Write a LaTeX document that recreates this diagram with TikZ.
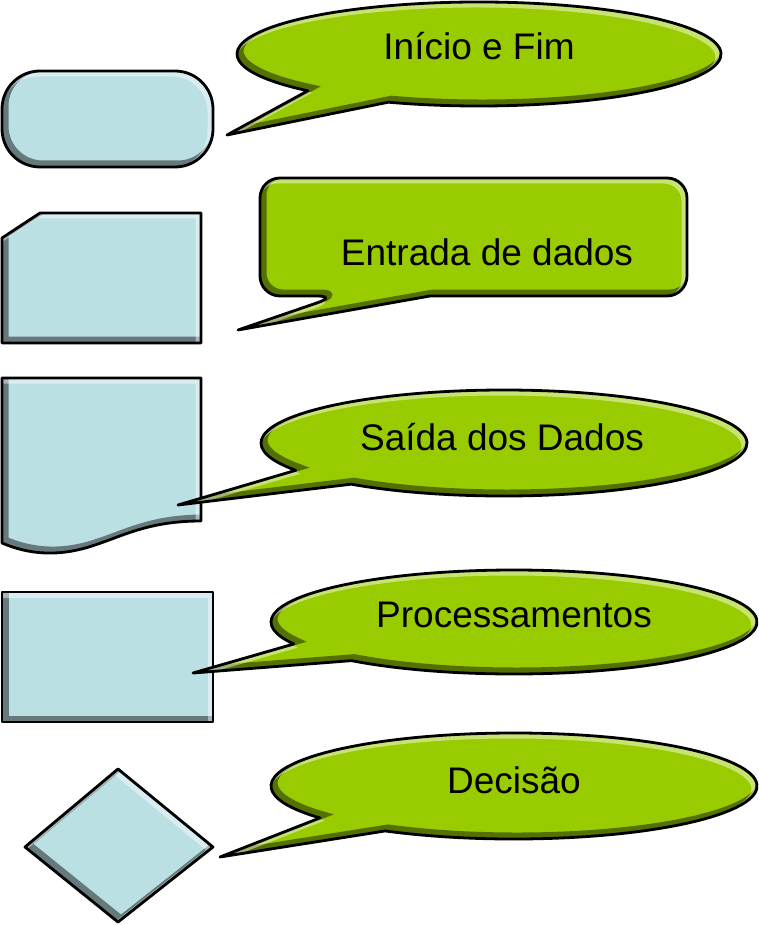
\documentclass[tikz,border=0pt]{standalone}
\usepackage{fontspec}
\setmainfont{Liberation Sans}
\definecolor{shapeblue}{RGB}{187,224,228}
\definecolor{callgreen}{RGB}{153,204,0}
% shape outlines, in pixel units (y grows downwards)
\def\myTerm{[rounded corners=38pt] (2,71) rectangle (213,167)}
\def\myCard{(2,238) -- (40,213) -- (201,213) -- (201,343) -- (2,343) -- cycle}
\def\myDoc{(2,378) -- (201,378) -- (201,521) .. controls (150,521) and (125,535) .. (95,545) .. controls (60,557) and (30,555) .. (2,543) -- cycle}
\def\myProc{(2,592) rectangle (213,722)}
\def\myDiam{(118,769) -- (213,847) -- (118,922) -- (25,847) -- cycle}
\def\myCallA{(227,135) -- ([shift={(112:242 and 52)}]479,54) arc[start angle=112, end angle=-225, x radius=242, y radius=52] -- cycle}
\def\myCallB{(238,330) -- (430,296) [rounded corners=20pt] -- (687,296) -- (687,178) -- (260,178) -- (260,296) -- (337,296) [sharp corners] -- cycle}
\def\myCallC{(178,505) -- ([shift={(129:243 and 53)}]504,443) arc[start angle=129, end angle=-211, x radius=243, y radius=53] -- cycle}
\def\myCallD{(193,673) -- ([shift={(132:243 and 52)}]514,622) arc[start angle=132, end angle=-205, x radius=243, y radius=52] -- cycle}
\def\myCallE{(220,857) -- ([shift={(122:243 and 53)}]514,786) arc[start angle=122, end angle=-217, x radius=243, y radius=53] -- cycle}
\newcommand\myBevel[2]{%
  \begin{scope}
    \clip #2;
    \fill[#1] #2;
    \draw[line width=7pt, black, opacity=0.45, shift={(3,-3)}] #2;
    \draw[line width=5pt, white, opacity=0.45, shift={(-3,3)}] #2;
  \end{scope}
  \draw[outline] #2;}
\begin{document}
\begin{tikzpicture}[x=1pt,y=-1pt,
  outline/.style={draw=black, line width=2.8pt, line join=round},
  lbl/.style={anchor=base, inner sep=0pt, font=\fontsize{37pt}{44pt}\selectfont}]
\useasboundingbox (0,0) rectangle (759,925);
% flowchart symbols
\myBevel{shapeblue}{\myTerm}
\myBevel{shapeblue}{\myCard}
\myBevel{shapeblue}{\myDoc}
\myBevel{shapeblue}{\myProc}
\myBevel{shapeblue}{\myDiam}
% callouts
\myBevel{callgreen}{\myCallA}
\myBevel{callgreen}{\myCallB}
\myBevel{callgreen}{\myCallC}
\myBevel{callgreen}{\myCallD}
\myBevel{callgreen}{\myCallE}
% labels
\node[lbl] (t1) at (479,60) {Início e Fim};
\node[lbl] (t2) at (487,265) {Entrada de dados};
\node[lbl] (t3) at (502,450) {Saída dos Dados};
\node[lbl] (t4) at (514,627) {Processamentos};
\node[lbl] (t5) at (514,793) {Decisão};
\end{tikzpicture}
\end{document}
